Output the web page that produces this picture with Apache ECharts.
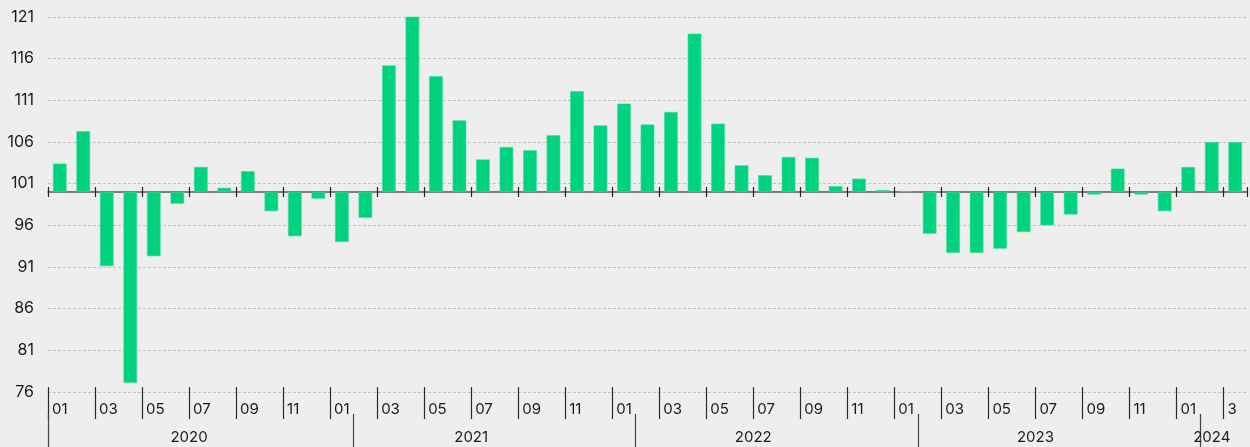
<!DOCTYPE html>
<html>
<head>
<meta charset="utf-8">
<script src="https://cdn.jsdelivr.net/npm/echarts@6/dist/echarts.min.js"></script>
<style>
html,body{margin:0;padding:0;background:#eeeeee;}
#chart{width:1250px;height:447px;}
</style>
</head>
<body>
<div id="chart"></div>
<script>
// ---- data ----
const years = ['2020', '2021', '2022', '2023', '2024'];
const monthsPerYear = [12, 12, 12, 12, 3];
// month tick labels shown at every second month (01, 03, ...)
const monthLabels = ['01','03','05','07','09','11',
                     '01','03','05','07','09','11',
                     '01','03','05','07','09','11',
                     '01','03','05','07','09','11',
                     '01','3'];
// year separator ticks (month index)
const yearSeparators = [0, 13, 25, 37, 49];
const baseline = 100;
const values = [
  103.4, 107.3, 91.1, 77.1, 92.3, 98.6, 103.0, 100.5, 102.5, 97.7, 94.7, 99.2,
  94.0, 96.9, 115.2, 121.1, 113.9, 108.6, 103.9, 105.4, 105.0, 106.8, 112.1, 108.0,
  110.6, 108.1, 109.6, 119.0, 108.2, 103.2, 102.0, 104.2, 104.1, 100.7, 101.6, 100.24,
  100.1, 95.0, 92.7, 92.7, 93.2, 95.2, 96.0, 97.3, 99.7, 102.8, 99.7, 97.7,
  103.0, 106.0, 106.0
];
const yMin = 76, yMax = 121, yStep = 5;

// ---- derived ----
const categories = [];
years.forEach((y, i) => { for (let m = 1; m <= monthsPerYear[i]; m++) categories.push(y + '-' + String(m).padStart(2, '0')); });
const n = categories.length;
const monthPoints = [];
for (let k = 0; k <= n; k++) monthPoints.push(k % 2 === 0 && k / 2 < monthLabels.length ? monthLabels[k / 2] : '');
const yearPoints = new Array(2 * n + 1).fill('');
let start = 0;
years.forEach((y, i) => { yearPoints[2 * start + monthsPerYear[i]] = y; start += monthsPerYear[i]; });
const sepSet = new Set(yearSeparators.map(s => 2 * s));
const deltas = values.map(v => +(v - baseline).toFixed(3));

const FONT = 'Inter';
const chart = echarts.init(document.getElementById('chart'), null, { renderer: 'canvas' });
chart.setOption({
  backgroundColor: '#eeeeee',
  animation: false,
  grid: { left: 48, right: -1, top: 17, bottom: 55, containLabel: false },
  xAxis: [
    { // bar axis on the 100 baseline
      type: 'category', data: categories, position: 'bottom',
      axisLine: { show: true, onZero: true, onZeroAxisIndex: 0, lineStyle: { color: '#555555', width: 1.5 } },
      axisTick: { show: true, interval: 1, length: 5, lineStyle: { color: '#222222', width: 1.2 } },
      axisLabel: { show: false }, splitLine: { show: false }
    },
    { // month labels
      type: 'category', data: monthPoints, boundaryGap: false, position: 'bottom', offset: -5,
      axisLine: { show: false, onZero: false },
      axisTick: { show: true, interval: 1, length: 32, lineStyle: { color: '#2a2a2a', width: 1.2 } },
      axisLabel: { show: true, interval: 1, align: 'left', padding: [0, 0, 0, 4], margin: 15,
                   fontFamily: FONT, fontSize: 15, color: '#1a1a1a', hideOverlap: false },
      splitLine: { show: false }
    },
    { // year labels
      type: 'category', data: yearPoints, boundaryGap: false, position: 'bottom', offset: 22,
      axisLine: { show: false, onZero: false },
      axisTick: { show: true, interval: (idx) => sepSet.has(idx), length: 40, lineStyle: { color: '#444444', width: 1.2 } },
      axisLabel: { show: true, interval: 0, margin: 16, fontFamily: FONT, fontSize: 15, color: '#1a1a1a', hideOverlap: false },
      splitLine: { show: false }
    },
    { // upward half of the baseline ticks
      type: 'category', data: categories, position: 'bottom',
      axisLine: { show: false, onZero: true, onZeroAxisIndex: 0 },
      axisTick: { show: true, inside: true, interval: 1, length: 5, lineStyle: { color: '#222222', width: 1.2 } },
      axisLabel: { show: false }, splitLine: { show: false }
    }
  ],
  yAxis: {
    type: 'value', min: yMin - baseline, max: yMax - baseline, interval: yStep,
    axisLine: { show: false }, axisTick: { show: false },
    axisLabel: { formatter: v => String(Math.round(v + baseline)), fontFamily: FONT, fontSize: 16, color: '#1a1a1a', margin: 14 },
    splitLine: { show: true, lineStyle: { color: '#c4c4c4', type: [3, 2], width: 1 } }
  },
  series: [{
    type: 'bar', xAxisIndex: 0, data: deltas, barWidth: '58%',
    itemStyle: { color: '#00d280', borderColor: '#3fdc9c', borderWidth: 0.6 }
  }]
});
</script>
</body>
</html>
